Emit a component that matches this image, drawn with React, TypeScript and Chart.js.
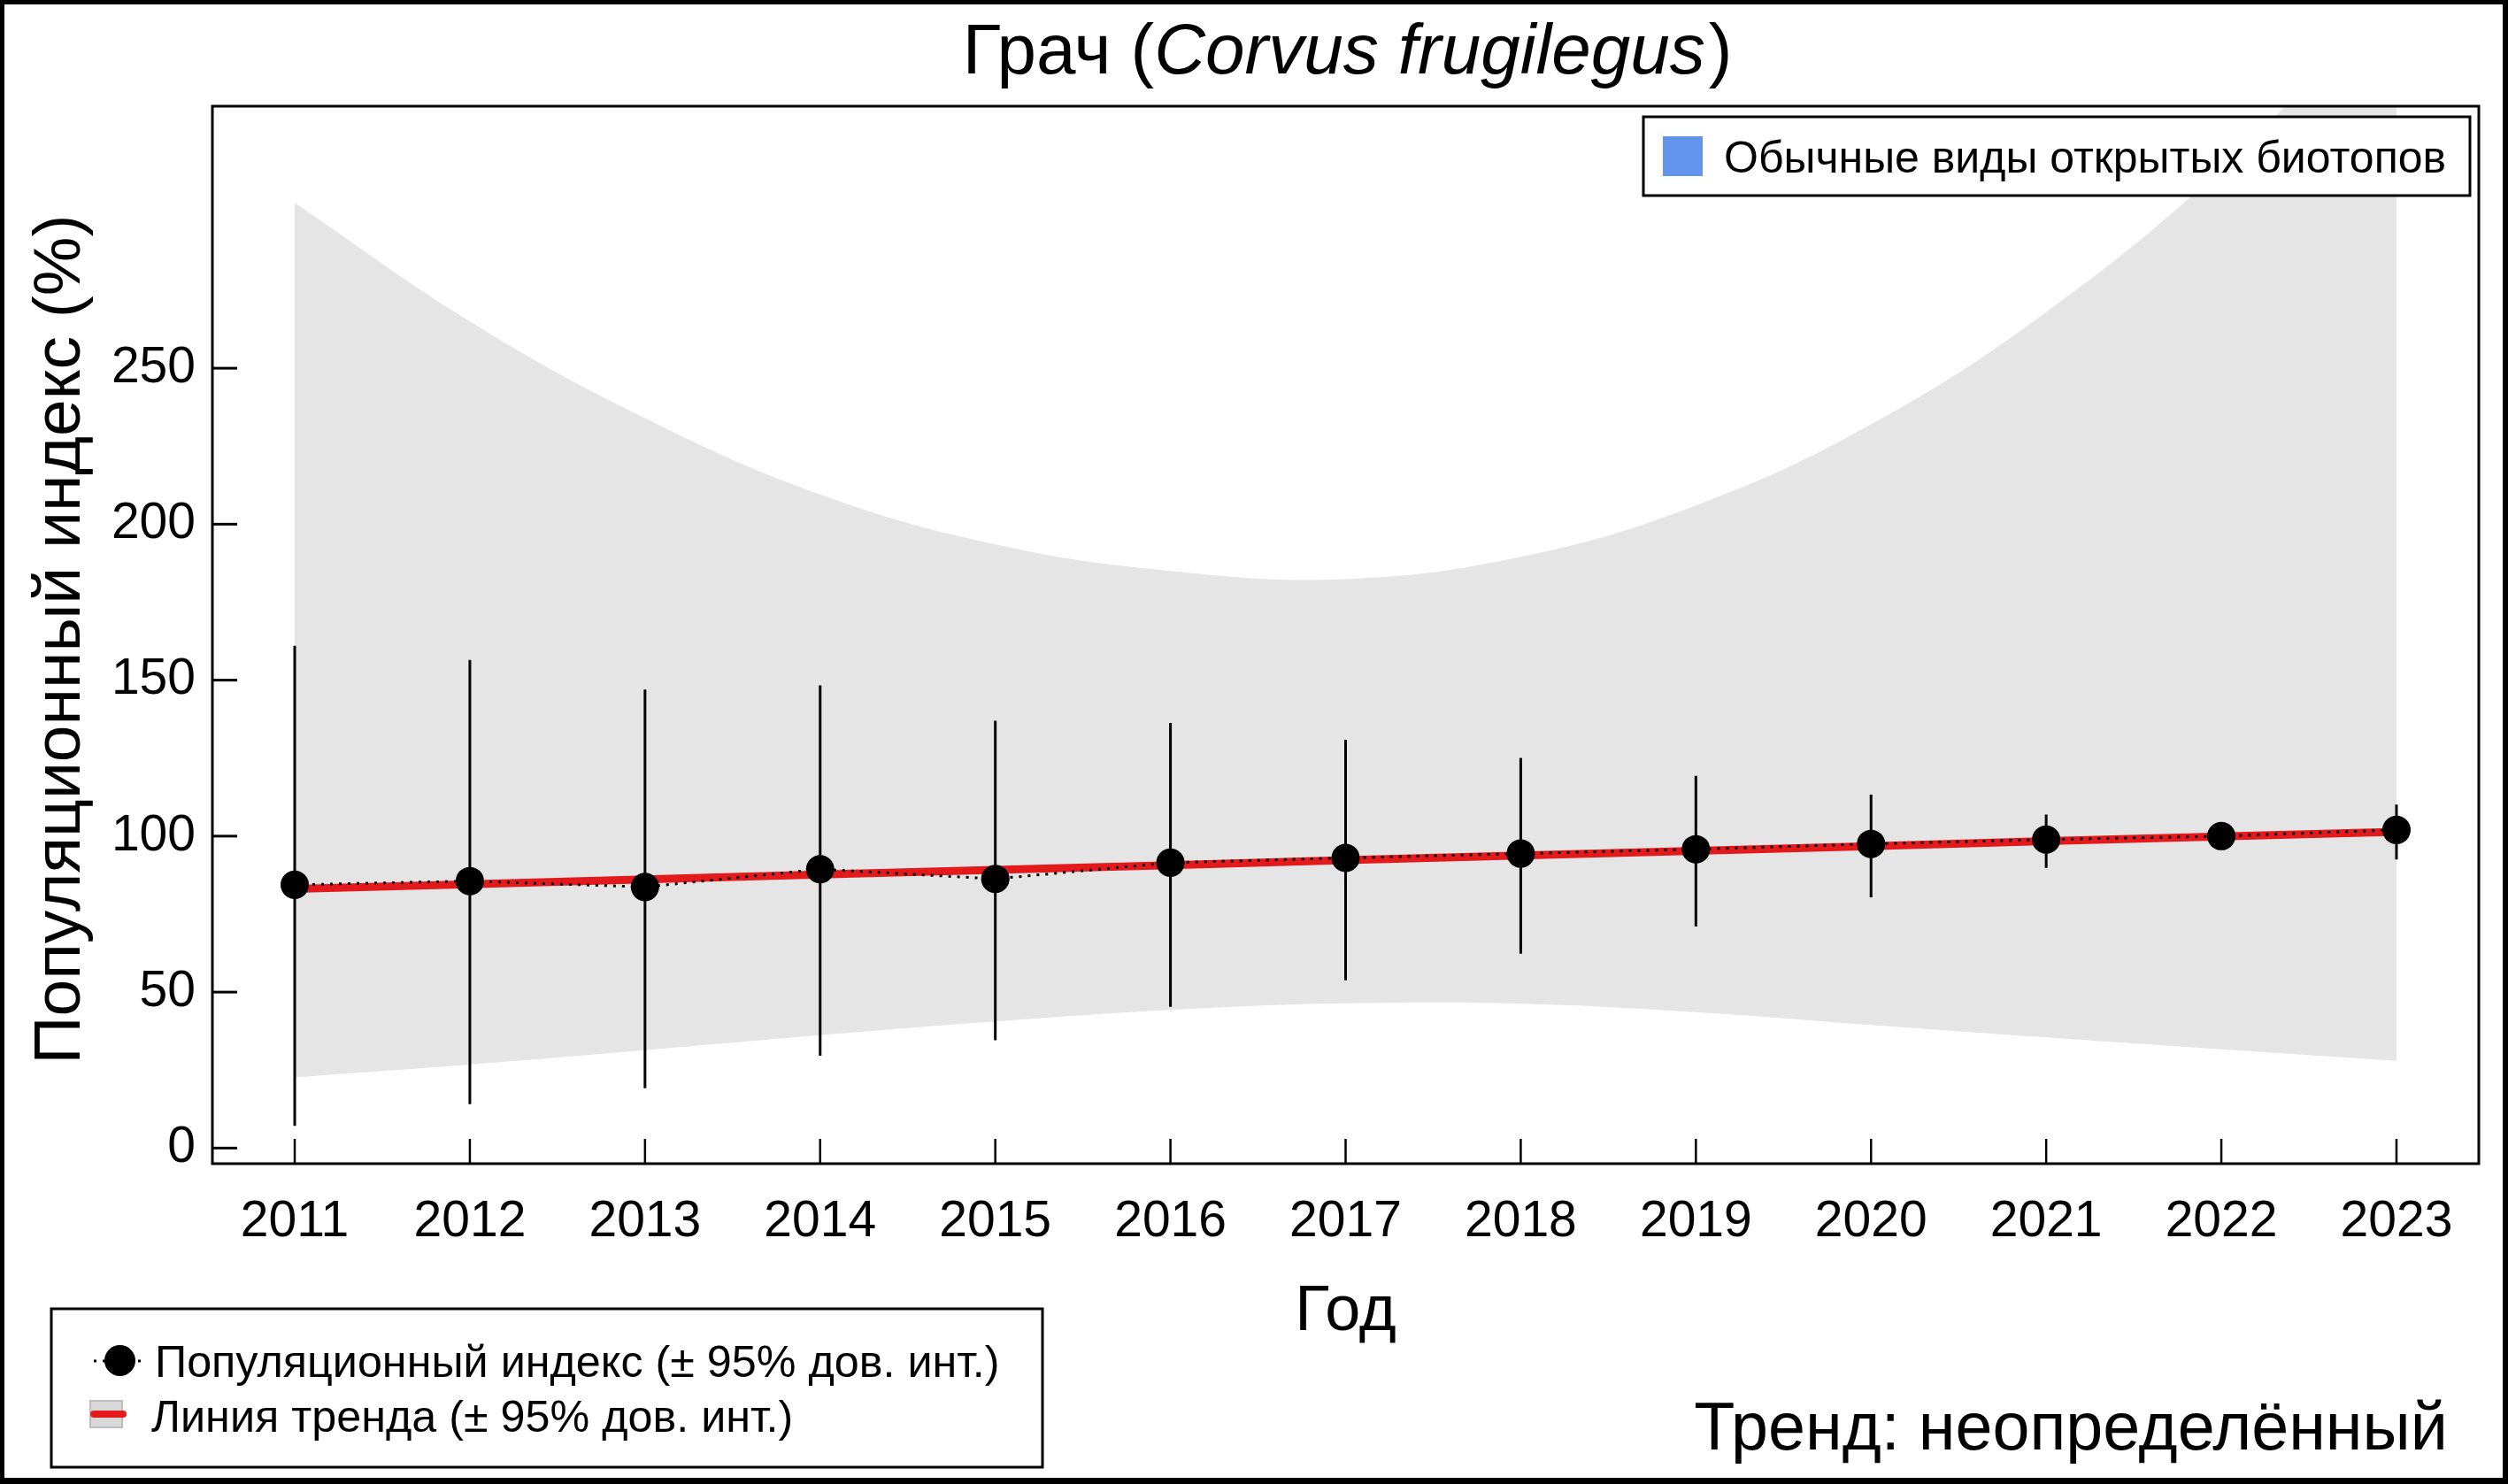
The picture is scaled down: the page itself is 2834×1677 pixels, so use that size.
import React, { useEffect, useRef } from 'react';
import { Chart, registerables } from 'chart.js';

Chart.register(...registerables);

// ---- Data ----
const years = [2011, 2012, 2013, 2014, 2015, 2016, 2017, 2018, 2019, 2020, 2021, 2022, 2023];
const indexValues = [84.4, 85.6, 83.7, 89.4, 86.3, 91.5, 93.0, 94.4, 95.8, 97.5, 98.9, 100.0, 102.0];
const indexLower = [7.1, 14.1, 19.2, 29.6, 34.6, 45.3, 53.8, 62.3, 71.0, 80.4, 89.8, 100.0, 92.5];
const indexUpper = [161.0, 156.5, 147.0, 148.3, 137.0, 136.3, 130.9, 125.1, 119.3, 113.3, 106.9, 100.0, 110.1];
const trendValues = [83.1, 84.6, 86.1, 87.7, 89.2, 90.7, 92.3, 93.8, 95.3, 96.8, 98.4, 99.9, 101.4];
const trendLower = [22.7, 26.8, 31.4, 36.2, 40.6, 44.3, 46.4, 46.3, 43.6, 39.5, 35.5, 31.7, 28.0];
const trendUpper = [303.0, 265.0, 234.0, 209.5, 193.5, 185.0, 182.4, 189.5, 206.0, 232.0, 268.0, 314.0, 372.0];
const yTickValues = [0, 50, 100, 150, 200, 250];

const titleMain = 'Грач (';
const titleLatin = 'Corvus frugilegus';
const titleEnd = ')';
const yTitle = 'Популяционный индекс (%)';
const xTitle = 'Год';
const groupLegend = 'Обычные виды открытых биотопов';
const legendIndex = 'Популяционный индекс (± 95% дов. инт.)';
const legendTrend = 'Линия тренда (± 95% дов. инт.)';
const trendText = 'Тренд: неопределённый';

const FONT = '"Liberation Sans", Arial, Helvetica, sans-serif';
const RED = '#e31a1c';
const BAND = '#e5e5e5';

const decorPlugin = {
  id: 'decor',
  beforeDraw(chart: any) {
    const ctx = chart.ctx;
    ctx.save();
    ctx.fillStyle = '#ffffff';
    ctx.fillRect(0, 0, chart.width, chart.height);
    ctx.restore();
  },
  afterDatasetsDraw(chart: any) {
    const { ctx, chartArea: a, scales } = chart;
    ctx.save();
    ctx.strokeStyle = '#000';
    ctx.lineWidth = 3;
    yTickValues.forEach((v) => {
      const py = scales.y.getPixelForValue(v);
      ctx.beginPath();
      ctx.moveTo(a.left, py);
      ctx.lineTo(a.left + 28, py);
      ctx.stroke();
    });
    ctx.lineWidth = 2.5;
    years.forEach((v) => {
      const px = scales.x.getPixelForValue(v);
      ctx.beginPath();
      ctx.moveTo(px, a.bottom);
      ctx.lineTo(px, a.bottom - 28);
      ctx.stroke();
    });
    ctx.lineWidth = 3;
    ctx.strokeRect(a.left, a.top, a.right - a.left, a.bottom - a.top);
    ctx.restore();
  },
  afterDraw(chart: any) {
    const { ctx, chartArea: a } = chart;
    const cx = (a.left + a.right) / 2;
    ctx.save();
    ctx.fillStyle = '#000';
    ctx.textBaseline = 'alphabetic';

    // Title
    const fMain = `80px ${FONT}`;
    const fItal = `italic 80px ${FONT}`;
    ctx.font = fMain;
    const w1 = ctx.measureText(titleMain).width;
    const w3 = ctx.measureText(titleEnd).width;
    ctx.font = fItal;
    const w2 = ctx.measureText(titleLatin).width;
    let tx = cx - (w1 + w2 + w3) / 2;
    ctx.textAlign = 'left';
    ctx.font = fMain;
    ctx.fillText(titleMain, tx, 83);
    tx += w1;
    ctx.font = fItal;
    ctx.fillText(titleLatin, tx, 83);
    tx += w2;
    ctx.font = fMain;
    ctx.fillText(titleEnd, tx + 4, 83);

    // X title
    ctx.font = `72px ${FONT}`;
    ctx.textAlign = 'center';
    ctx.fillText(xTitle, cx, 1503);

    // Y title
    ctx.save();
    ctx.translate(90, (a.top + a.bottom) / 2 + 5);
    ctx.rotate(-Math.PI / 2);
    ctx.font = `75px ${FONT}`;
    ctx.textAlign = 'center';
    ctx.fillText(yTitle, 0, 0);
    ctx.restore();

    // Top-right legend (group)
    ctx.fillStyle = '#fff';
    ctx.fillRect(1857, 132, 934, 89);
    ctx.strokeStyle = '#000';
    ctx.lineWidth = 3;
    ctx.strokeRect(1857, 132, 934, 89);
    ctx.fillStyle = '#6495ed';
    ctx.fillRect(1879, 154, 45, 45);
    ctx.fillStyle = '#000';
    ctx.font = `50px ${FONT}`;
    ctx.textAlign = 'left';
    ctx.fillText(groupLegend, 1948, 195);

    // Bottom-left legend
    ctx.fillStyle = '#fff';
    ctx.fillRect(58, 1479, 1120, 179);
    ctx.strokeStyle = '#000';
    ctx.lineWidth = 3;
    ctx.strokeRect(58, 1479, 1120, 179);
    // entry 1 marker: dotted line + dot
    ctx.save();
    ctx.setLineDash([3, 7]);
    ctx.lineWidth = 3;
    ctx.beginPath();
    ctx.moveTo(106, 1538);
    ctx.lineTo(162, 1538);
    ctx.stroke();
    ctx.restore();
    ctx.fillStyle = '#000';
    ctx.beginPath();
    ctx.arc(135.5, 1537.5, 17.5, 0, Math.PI * 2);
    ctx.fill();
    ctx.font = `50.3px ${FONT}`;
    ctx.textAlign = 'left';
    ctx.fillText(legendIndex, 175, 1556);
    // entry 2 marker: grey box + red line
    ctx.fillStyle = '#d9d9d9';
    ctx.fillRect(102, 1583, 36, 30);
    ctx.strokeStyle = '#bdbdbd';
    ctx.lineWidth = 2;
    ctx.strokeRect(102, 1583, 36, 30);
    ctx.strokeStyle = RED;
    ctx.lineWidth = 8;
    ctx.lineCap = 'round';
    ctx.beginPath();
    ctx.moveTo(106, 1598);
    ctx.lineTo(139, 1598);
    ctx.stroke();
    ctx.lineCap = 'butt';
    ctx.fillStyle = '#000';
    ctx.fillText(legendTrend, 171, 1618);

    // Trend text
    ctx.font = `75.5px ${FONT}`;
    ctx.textAlign = 'right';
    ctx.fillText(trendText, 2766, 1638);

    // Outer frame
    ctx.fillStyle = '#000';
    ctx.fillRect(0, 0, chart.width, 5);
    ctx.fillRect(0, 0, 5, chart.height);
    ctx.fillRect(chart.width - 6, 0, 6, chart.height);
    ctx.fillRect(0, chart.height - 7, chart.width, 7);
    ctx.restore();
  },
};

export default function App() {
  const ref = useRef<HTMLCanvasElement>(null);

  useEffect(() => {
    if (!ref.current) return;
    const pts = (vals: number[]) => years.map((x, i) => ({ x, y: vals[i] }));
    const errorBars: any[] = [];
    years.forEach((x, i) => {
      errorBars.push({ x, y: indexLower[i] });
      errorBars.push({ x, y: indexUpper[i] });
      errorBars.push({ x, y: null });
    });

    const chart = new Chart(ref.current, {
      type: 'line',
      data: {
        datasets: [
          {
            label: 'index',
            data: pts(indexValues),
            borderColor: '#000',
            borderWidth: 3,
            borderDash: [3, 7],
            pointRadius: 16,
            pointBackgroundColor: '#000',
            pointBorderWidth: 0,
            pointBorderColor: '#000',
            fill: false,
            order: 0,
          },
          {
            label: 'trend',
            data: pts(trendValues),
            borderColor: RED,
            borderWidth: 9,
            pointRadius: 0,
            fill: false,
            order: 1,
          },
          {
            label: 'ci',
            data: errorBars,
            borderColor: '#000',
            borderWidth: 3,
            pointRadius: 0,
            spanGaps: false,
            fill: false,
            order: 2,
          },
          {
            label: 'bandLower',
            data: pts(trendLower),
            borderWidth: 0,
            borderColor: 'rgba(0,0,0,0)',
            pointRadius: 0,
            tension: 0.4,
            fill: false,
            order: 3,
          },
          {
            label: 'bandUpper',
            data: pts(trendUpper),
            borderWidth: 0,
            borderColor: 'rgba(0,0,0,0)',
            backgroundColor: BAND,
            pointRadius: 0,
            tension: 0.4,
            fill: '-1',
            order: 4,
          },
        ] as any,
      },
      options: {
        responsive: false,
        animation: false,
        devicePixelRatio: 1,
        layout: { padding: { top: 120, right: 33, left: 0, bottom: 0 } },
        plugins: {
          legend: { display: false },
          tooltip: { enabled: false },
          title: { display: false },
        },
        scales: {
          x: {
            type: 'linear',
            min: 2010.53,
            max: 2023.47,
            grid: { display: false, drawTicks: false },
            border: { display: false },
            afterBuildTicks: (s: any) => {
              s.ticks = years.map((v) => ({ value: v }));
            },
            afterFit: (s: any) => {
              s.height = 362;
            },
            ticks: {
              autoSkip: false,
              maxRotation: 0,
              minRotation: 0,
              padding: 32,
              color: '#000',
              font: { family: FONT, size: 57 },
              callback: (v: any) => String(v),
            },
          },
          y: {
            type: 'linear',
            min: -5,
            max: 334,
            grid: { display: false, drawTicks: false },
            border: { display: false },
            afterBuildTicks: (s: any) => {
              s.ticks = yTickValues.map((v) => ({ value: v }));
            },
            afterFit: (s: any) => {
              s.width = 240;
            },
            ticks: {
              padding: 19,
              color: '#000',
              font: { family: FONT, size: 57 },
              callback: (v: any) => String(v),
            },
          },
        },
      } as any,
      plugins: [decorPlugin],
    });
    return () => chart.destroy();
  }, []);

  return (
    <div style={{ position: 'fixed', left: 0, top: 0, width: 2834, height: 1677, background: '#fff' }}>
      <canvas ref={ref} width={2834} height={1677} style={{ display: 'block', width: 2834, height: 1677 }} />
    </div>
  );
}
